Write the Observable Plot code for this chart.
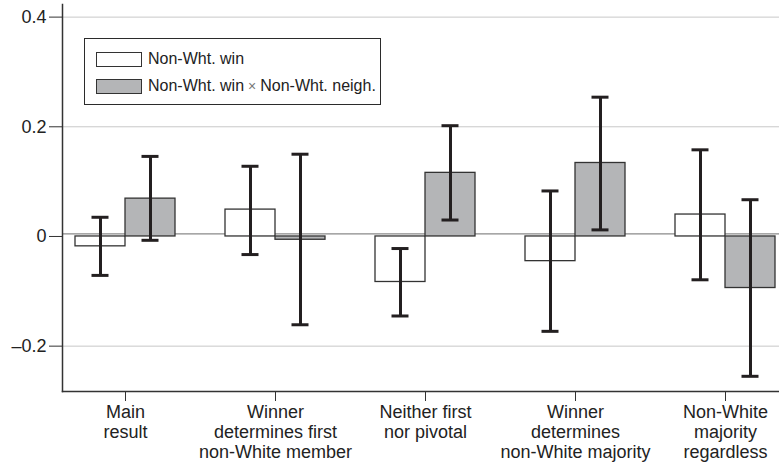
<!DOCTYPE html>
<html>
<head>
<meta charset="utf-8">
<script src="https://cdn.jsdelivr.net/npm/d3@7"></script>
<script src="https://cdn.jsdelivr.net/npm/@observablehq/plot@0.6"></script>
<style>
  html, body { margin: 0; padding: 0; background: #fff; overflow: hidden; }
  #chart { position: relative; width: 779px; height: 469px; font-family: "Liberation Sans", Arial, sans-serif; }
  #chart svg { display: block; }
  .legend {
    position: absolute; left: 84px; top: 38px; width: 297px; height: 67px;
    border: 1.3px solid #2b2b2b; background: #fff; box-sizing: border-box;
    font-size: 16px; color: #222;
  }
  .legend .row { position: absolute; left: 11px; display: flex; align-items: center; white-space: nowrap; }
  .legend .sw { width: 46px; height: 15px; border: 1.3px solid #333; box-sizing: border-box; margin-right: 6px; }
  .legend .times { color: #777; font-size: 14px; margin: 0 4px; }
</style>
</head>
<body>
<div id="chart"></div>
<script>
// Estimated coefficients with 95% confidence intervals, by specification
const categories = [
  "Main\nresult",
  "Winner\ndetermines first\nnon-White member",
  "Neither first\nnor pivotal",
  "Winner\ndetermines\nnon-White majority",
  "Non-White\nmajority\nregardless"
];
const nonWhtWin     = [-0.018,  0.049, -0.083, -0.045,  0.040];
const nonWhtWinLo   = [-0.071, -0.033, -0.145, -0.173, -0.079];
const nonWhtWinHi   = [ 0.035,  0.128, -0.022,  0.083,  0.158];
const interaction   = [ 0.069, -0.006,  0.116,  0.134, -0.094];
const interactionLo = [-0.007, -0.161,  0.030,  0.012, -0.255];
const interactionHi = [ 0.146,  0.150,  0.202,  0.254,  0.067];
const yTicks = [-0.2, 0, 0.2, 0.4];

const rows = categories.map((c, i) => ({
  cat: c,
  w: nonWhtWin[i], wLo: nonWhtWinLo[i], wHi: nonWhtWinHi[i],
  g: interaction[i], gLo: interactionLo[i], gHi: interactionHi[i]
}));

const ink = "#231f20";
const fmt = d => d === 0 ? "0" : (d < 0 ? "\u2013" + Math.abs(d).toFixed(1) : d.toFixed(1));

const chart = Plot.plot({
  width: 779,
  height: 469,
  marginLeft: 62,
  marginRight: 0,
  marginTop: 4,
  marginBottom: 78,
  style: { fontFamily: "'Liberation Sans', Arial, sans-serif", fontSize: "18px", color: "#222" },
  x: { type: "band", domain: categories, range: [50, 800], padding: 0, label: null },
  y: { domain: [-0.2827, 0.423], label: null },
  marks: [
    Plot.gridY(yTicks.filter(d => d !== 0), { stroke: "#c8c8c8", strokeOpacity: 1, strokeWidth: 1 }),
    Plot.ruleY([0], { stroke: "#8a8a8a", strokeWidth: 1.3, dy: -2.5 }),
    // Non-Wht. win (white) and interaction (grey) bars, side by side in each band
    Plot.barY(rows, { x: "cat", y: "w", fill: "#ffffff", stroke: "#333", strokeWidth: 1.3, insetLeft: 25, insetRight: 75 }),
    Plot.barY(rows, { x: "cat", y: "g", fill: "#b4b5b7", stroke: "#333", strokeWidth: 1.3, insetLeft: 75, insetRight: 25 }),
    // Confidence intervals
    Plot.ruleX(rows, { x: "cat", y1: "wLo", y2: "wHi", dx: -25, stroke: ink, strokeWidth: 3 }),
    Plot.ruleX(rows, { x: "cat", y1: "gLo", y2: "gHi", dx: 25, stroke: ink, strokeWidth: 3 }),
    Plot.tickY(rows, { x: "cat", y: "wLo", dx: -25, insetLeft: 66.5, insetRight: 66.5, stroke: ink, strokeWidth: 3 }),
    Plot.tickY(rows, { x: "cat", y: "wHi", dx: -25, insetLeft: 66.5, insetRight: 66.5, stroke: ink, strokeWidth: 3 }),
    Plot.tickY(rows, { x: "cat", y: "gLo", dx: 25, insetLeft: 66.5, insetRight: 66.5, stroke: ink, strokeWidth: 3 }),
    Plot.tickY(rows, { x: "cat", y: "gHi", dx: 25, insetLeft: 66.5, insetRight: 66.5, stroke: ink, strokeWidth: 3 }),
    Plot.axisY(yTicks, { tickSize: 13, tickPadding: 3, tickFormat: fmt, stroke: "#333", fontSize: 18 }),
    Plot.axisX({ tickSize: 10, tickPadding: 2, stroke: "#333", fontSize: 18, lineHeight: 1.12 }),
    Plot.frame({ anchor: "left", stroke: "#333", strokeWidth: 1.5 }),
    Plot.frame({ anchor: "bottom", stroke: "#333", strokeWidth: 1.5 })
  ]
});

const root = document.getElementById("chart");
root.appendChild(chart);

const legend = document.createElement("div");
legend.className = "legend";
legend.innerHTML =
  '<div class="row" style="top:11px"><div class="sw" style="background:#fff"></div><span>Non-Wht. win</span></div>' +
  '<div class="row" style="top:38px"><div class="sw" style="background:#b4b5b7"></div><span>Non-Wht. win<span class="times">\u00d7</span>Non-Wht. neigh.</span></div>';
root.appendChild(legend);
</script>
</body>
</html>
